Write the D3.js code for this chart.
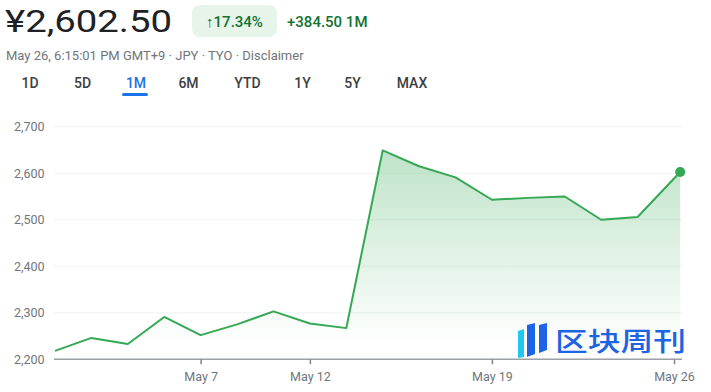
<!DOCTYPE html>
<html>
<head>
<meta charset="utf-8">
<script src="https://d3js.org/d3.v7.min.js"></script>
<style>
  body { margin: 0; background: #fff; }
  svg { display: block; font-family: Roboto, "Noto Sans", sans-serif; }
</style>
</head>
<body>
<script>
    // trading days shown on the 1M chart (last one is the live quote, a bit past its day slot)
    var days = ["Apr 28", "Apr 30", "May 1", "May 2", "May 7", "May 8", "May 9", "May 12", "May 13",
                "May 14", "May 15", "May 16", "May 19", "May 20", "May 21", "May 22", "May 23", "May 26"];
    var sessions = [0, 1, 2, 3, 4, 5, 6, 7, 8, 9, 10, 11, 12, 13, 14, 15, 16, 17.17];
    var prices = [2218, 2246, 2233, 2291, 2252, 2275, 2303, 2277, 2267,
                  2649, 2615, 2591, 2543, 2547, 2550, 2500, 2506, 2602.5];
    var yTicks = [2200, 2300, 2400, 2500, 2600, 2700];
    var xTickLabels = ["May 7", "May 12", "May 19", "May 26"];
    var xTickSessions = [4, 7, 12, 17];
    var tabs = ["1D", "5D", "1M", "6M", "YTD", "1Y", "5Y", "MAX"];
    var tabCenters = [30, 82.5, 136, 188.5, 247.5, 302.5, 352.5, 412];

    var W = 711, H = 392;
    var svg = d3.select("body").append("svg")
        .attr("width", W)
        .attr("height", H);

    // header
    svg.append("text")
        .attr("x", 5).attr("y", 31.5)
        .attr("font-size", 31)
        .attr("fill", "#202124")
        .attr("textLength", 167)
        .attr("lengthAdjust", "spacingAndGlyphs")
        .text("¥2,602.50");

    svg.append("rect")
        .attr("x", 192).attr("y", 5)
        .attr("width", 85).attr("height", 32)
        .attr("rx", 8)
        .attr("fill", "#e6f4ea");
    svg.append("text")
        .attr("x", 234.5).attr("y", 26.5)
        .attr("text-anchor", "middle")
        .attr("font-size", 15).attr("font-weight", 500)
        .attr("fill", "#137333")
        .text("\u2191" + "17.34%");
    svg.append("text")
        .attr("x", 287).attr("y", 26.5)
        .attr("font-size", 15).attr("font-weight", 500)
        .attr("fill", "#137333")
        .text("+384.50 1M");

    svg.append("text")
        .attr("x", 6).attr("y", 59.5)
        .attr("font-size", 13)
        .attr("fill", "#70757a")
        .text("May 26, 6:15:01 PM GMT+9 \u00b7 JPY \u00b7 TYO \u00b7 Disclaimer");

    // range tabs
    svg.selectAll(".tab")
        .data(tabs)
        .enter().append("text")
        .attr("class", "tab")
        .attr("x", function (d, i) { return tabCenters[i]; })
        .attr("y", 88)
        .attr("text-anchor", "middle")
        .attr("font-size", 14).attr("font-weight", 500)
        .attr("fill", function (d) { return d === "1M" ? "#1a73e8" : "#3c4043"; })
        .text(function (d) { return d; });
    svg.append("rect")
        .attr("x", 122).attr("y", 93)
        .attr("width", 26).attr("height", 3)
        .attr("rx", 1.5)
        .attr("fill", "#1a73e8");

    // chart
    var x = d3.scaleLinear().domain([0, 17]).range([55, 674]);
    var y = d3.scaleLinear().domain([2200, 2700]).range([359.3, 126.7]);

    svg.append("g")
        .selectAll("line")
        .data(yTicks.slice(1))
        .enter().append("line")
        .attr("x1", 54).attr("x2", 682)
        .attr("y1", function (d) { return y(d); })
        .attr("y2", function (d) { return y(d); })
        .attr("stroke", "#f1f3f4")
        .attr("stroke-width", 1);

    var yAxis = d3.axisLeft(y)
        .tickValues(yTicks)
        .tickSize(0)
        .tickFormat(d3.format(","));
    svg.append("g")
        .attr("transform", "translate(14,0)")
        .call(yAxis)
        .call(function (g) {
            g.select(".domain").remove();
            g.selectAll("text")
                .attr("x", 0)
                .attr("text-anchor", "start")
                .attr("font-family", "Roboto, sans-serif")
                .attr("font-size", 12.5)
                .attr("fill", "#70757a");
        });

    var defs = svg.append("defs");
    var grad = defs.append("linearGradient")
        .attr("id", "fillGrad")
        .attr("gradientUnits", "userSpaceOnUse")
        .attr("x1", 0).attr("x2", 0)
        .attr("y1", y(2650)).attr("y2", y(2230));
    grad.append("stop").attr("offset", 0).attr("stop-color", "#34a853").attr("stop-opacity", 0.32);
    grad.append("stop").attr("offset", 1).attr("stop-color", "#34a853").attr("stop-opacity", 0);

    var area = d3.area()
        .x(function (d, i) { return x(sessions[i]); })
        .y0(y(2200))
        .y1(function (d) { return y(d); });
    var line = d3.line()
        .x(function (d, i) { return x(sessions[i]); })
        .y(function (d) { return y(d); });

    svg.append("path").datum(prices)
        .attr("fill", "url(#fillGrad)")
        .attr("d", area);

    var xAxis = d3.axisBottom(x)
        .tickValues(xTickSessions)
        .tickSize(5)
        .tickFormat(function (d, i) { return xTickLabels[i]; });
    svg.append("g")
        .attr("transform", "translate(0," + y(2200) + ")")
        .call(xAxis)
        .call(function (g) {
            g.select(".domain")
                .attr("d", "M54,0H682")
                .attr("stroke", "#9aa0a6")
                .attr("stroke-width", 1.5);
            g.selectAll(".tick line")
                .attr("stroke", "#80868b")
                .attr("stroke-width", 1.5);
            g.selectAll("text")
                .attr("y", 13)
                .attr("dy", "0.71em")
                .attr("font-family", "Roboto, sans-serif")
                .attr("font-size", 12.5)
                .attr("fill", "#70757a");
        });

    svg.append("path").datum(prices)
        .attr("fill", "none")
        .attr("stroke", "#34a853")
        .attr("stroke-width", 2)
        .attr("stroke-linejoin", "round")
        .attr("d", line);

    var last = prices.length - 1;
    svg.append("circle")
        .attr("cx", x(sessions[last]))
        .attr("cy", y(prices[last]))
        .attr("r", 5)
        .attr("fill", "#34a853");

    // watermark
    var wm = svg.append("g").attr("class", "watermark");
    wm.append("path").attr("d", "M518,331L524,329L524,357L518,358Z").attr("fill", "#1fc8f0");
    wm.append("path").attr("d", "M527,325L535,323L535,354L527,357Z").attr("fill", "#1d64e4");
    wm.append("path").attr("d", "M539,325L547,323L547,350L539,353Z").attr("fill", "#1d64e4");
    wm.append("text")
        .attr("x", 555).attr("y", 351)
        .attr("font-family", "'Noto Sans CJK SC', sans-serif")
        .attr("font-size", 26)
        .attr("font-weight", 500)
        .attr("fill", "#1d64e4")
        .attr("textLength", 131)
        .attr("lengthAdjust", "spacingAndGlyphs")
        .text("区块周刊");
</script>
</body>
</html>
